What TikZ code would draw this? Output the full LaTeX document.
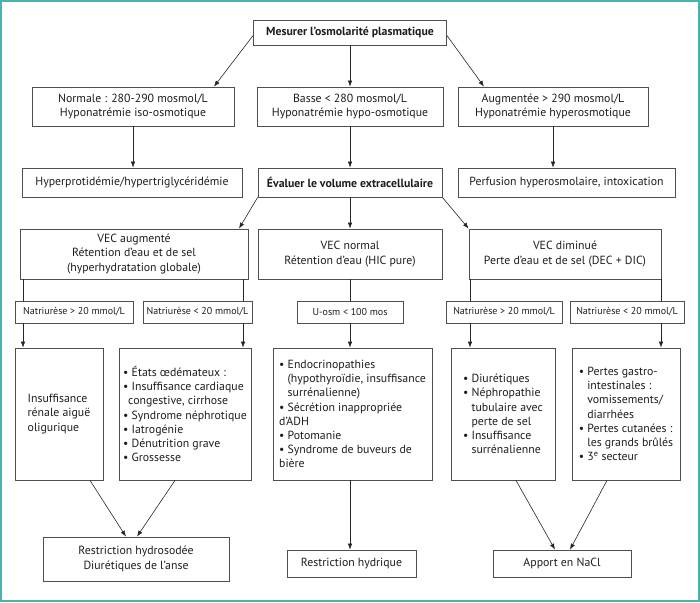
\documentclass[tikz,border=0pt]{standalone}
\usepackage{fontspec}
\setmainfont{PT Sans}
\usetikzlibrary{arrows.meta,calc}
\definecolor{frameteal}{RGB}{72,180,174}
\definecolor{boxgray}{RGB}{80,80,80}
\definecolor{txt}{RGB}{30,30,30}
\newcommand\bl{\textbullet\ }
\newcommand\hg{\hphantom{\textbullet\ }}
\begin{document}
\begin{tikzpicture}[x=1pt,y=-1pt,
 box/.style={draw=boxgray, line width=0.8pt, fill=white, inner sep=0pt, align=center, text=txt, font=\fontsize{11.8}{14.2}\selectfont},
 bbox/.style={box, font=\fontsize{11.8}{14.2}\selectfont\bfseries},
 lbl/.style={box, font=\fontsize{10}{12}\selectfont},
 lst/.style={box, align=left},
 arr/.style={draw=black!85, line width=0.6pt, -{Latex[length=6pt,width=4.5pt]}},
 ln/.style={draw=black!85, line width=0.6pt}]
\useasboundingbox (0,0) rectangle (700,602);
\draw[frameteal, line width=2pt] (1,1) rectangle (699,601);

\node[bbox, minimum width=193pt, minimum height=25pt] (top) at (350,32.5) {Mesurer l’osmolarité plasmatique};

\node[box, minimum width=202pt, minimum height=39pt] (n1) at (133,106.5) {Normale : 280-290 mosmol/L\\Hyponatrémie iso-osmotique};
\node[box, minimum width=186pt, minimum height=39pt] (n2) at (350,106.5) {Basse < 280 mosmol/L\\Hyponatrémie hypo-osmotique};
\node[box, minimum width=190pt, minimum height=39pt] (n3) at (553,106.5) {Augmentée > 290 mosmol/L\\Hyponatrémie hyperosmotique};

\node[box, minimum width=220pt, minimum height=29pt] (hyper) at (132,182.5) {Hyperprotidémie/hypertriglycéridémie};
\node[bbox, minimum width=184pt, minimum height=29pt] (eval) at (350,182.5) {Évaluer le volume extracellulaire};
\node[box, minimum width=217pt, minimum height=29pt] (perf) at (566.5,182.5) {Perfusion hyperosmolaire, intoxication};

\node[box, minimum width=228pt, minimum height=50pt] (vecaug) at (134,254) {VEC augmenté\\Rétention d’eau et de sel\\(hyperhydratation globale)};
\node[box, minimum width=184pt, minimum height=50pt] (vecnorm) at (350,254) {VEC normal\\Rétention d’eau (HIC pure)};
\node[box, minimum width=192pt, minimum height=50pt] (vecdim) at (565,254) {VEC diminué\\Perte d’eau et de sel (DEC + DIC)};

\node[box, minimum width=88pt, minimum height=132pt, align=left] (A) at (59,414) {Insuffisance\\rénale aiguë\\oligurique};
\node[lst, minimum width=132pt, minimum height=132pt] (B) at (185,414) {\bl États œdémateux :\\\bl Insuffisance cardiaque\\\hspace*{5pt}congestive, cirrhose\\\bl Syndrome néphrotique\\\bl Iatrogénie\\\bl Dénutrition grave\\\bl Grossesse};
\node[lst, minimum width=159pt, minimum height=132pt] (C) at (352.5,414) {\bl Endocrinopathies\\\hg(hypothyroïdie, insuffisance\\\hg surrénalienne)\\\bl Sécrétion inappropriée\\d’ADH\\\bl Potomanie\\\bl Syndrome de buveurs de\\bière};
\node[lst, minimum width=104pt, minimum height=132pt] (D) at (503,414) {\bl Diurétiques\\\bl Néphropathie\\\hg tubulaire avec\\\hg perte de sel\\\bl Insuffisance\\\hg surrénalienne};
\node[lst, minimum width=108pt, minimum height=132pt] (E) at (626,414) {\bl Pertes gastro-\\\hg intestinales :\\\hg vomissements/\\\hg diarrhées\\\bl Pertes cutanées :\\\hg les grands brûlés\\\bl 3\textsuperscript{e} secteur};

\node[box, minimum width=186pt, minimum height=44pt] (hydro) at (136,559) {Restriction hydrosodée\\Diurétiques de l’anse};
\node[box, minimum width=129pt, minimum height=27pt] (hydrique) at (351.5,563.5) {Restriction hydrique};
\node[box, minimum width=138pt, minimum height=27pt] (nacl) at (562,563.5) {Apport en NaCl};

% level arrows
\draw[arr] ([yshift=-3pt]top.west) -- ([xshift=81pt]n1.north);
\draw[arr] (top.south) -- (n2.north);
\draw[arr] ([yshift=-3pt]top.east) -- ([xshift=-69pt]n3.north);

\draw[arr] (n1.south) -- (hyper.north -| n1.south);
\draw[arr] (n2.south) -- (eval.north);
\draw[arr] (n3.south) -- (perf.north -| n3.south);

\draw[arr] (eval.south west) -- ([xshift=105pt]vecaug.north);
\draw[arr] (eval.south) -- (vecnorm.north);
\draw[arr] (eval.south east) -- (vecdim.north west);

% branch lines with labels
\coordinate (xa) at (23,0);
\coordinate (xb) at (243,0);
\coordinate (xc) at (350,0);
\coordinate (xd) at (470,0);
\coordinate (xe) at (661,0);

\draw[ln] (vecaug.south -| xa) -- ++(0,22);
\draw[ln] (vecaug.south -| xb) -- ++(0,22);
\draw[ln] (vecnorm.south -| xc) -- ++(0,22);
\draw[ln] (vecdim.south -| xd) -- ++(0,22);
\draw[ln] (vecdim.south -| xe) -- ++(0,22);

\node[lbl, minimum width=118pt, minimum height=22pt] (L1) at (74,312) {Natriurèse > 20 mmol/L};
\node[lbl, minimum width=109pt, minimum height=22pt] (L2) at (197.5,312) {Natriurèse < 20 mmol/L};
\node[lbl, minimum width=106pt, minimum height=22pt] (L3) at (350,312) {U-osm < 100 mos};
\node[lbl, minimum width=116pt, minimum height=22pt] (L4) at (504,312) {Natriurèse > 20 mmol/L};
\node[lbl, minimum width=114pt, minimum height=22pt] (L5) at (627,312) {Natriurèse < 20 mmol/L};

\draw[arr] (L1.south -| xa) -- (A.north -| xa);
\draw[arr] (L2.south -| xb) -- (B.north -| xb);
\draw[arr] (L3.south -| xc) -- (C.north -| xc);
\draw[arr] (L4.south -| xd) -- (D.north -| xd);
\draw[arr] (L5.south -| xe) -- (E.north -| xe);

% to treatments
\draw[arr] ([xshift=31pt]A.south) -- ([xshift=-10pt]hydro.north);
\draw[arr] ([xshift=-10pt]B.south) -- ([xshift=1pt]hydro.north);
\draw[arr] (C.south -| xc) -- (hydrique.north -| xc);
\draw[arr] ([xshift=13pt]D.south) -- ([xshift=-7pt]nacl.north);
\draw[arr] ([xshift=-19pt]E.south) -- ([xshift=8pt]nacl.north);
\end{tikzpicture}
\end{document}
